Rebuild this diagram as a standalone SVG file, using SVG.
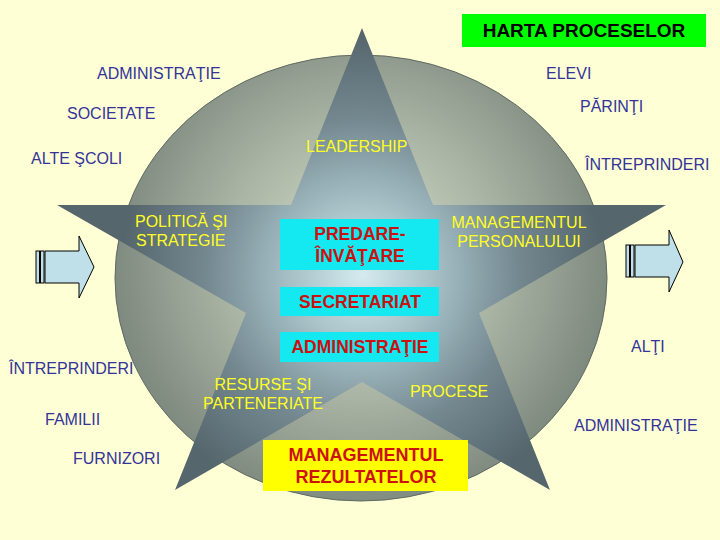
<svg xmlns="http://www.w3.org/2000/svg" width="720" height="540" viewBox="0 0 720 540">
<defs>
<radialGradient id="gCircle" gradientUnits="userSpaceOnUse" cx="361" cy="260" r="250">
<stop offset="0" stop-color="#d6e0ce"/>
<stop offset="0.55" stop-color="#aab4a4"/>
<stop offset="1" stop-color="#7e897f"/>
</radialGradient>
<radialGradient id="gStar" gradientUnits="userSpaceOnUse" cx="362" cy="275" r="240">
<stop offset="0" stop-color="#d4eaee"/>
<stop offset="0.3" stop-color="#a6c0c6"/>
<stop offset="0.65" stop-color="#748890"/>
<stop offset="1" stop-color="#56666d"/>
</radialGradient>
<style>
.blue{font-family:"Liberation Sans",Arial,sans-serif;font-size:16px;fill:#333399}
.yel{font-family:"Liberation Sans",Arial,sans-serif;font-size:16px;fill:#ffff22}
.red{font-family:"Liberation Sans",Arial,sans-serif;font-size:17.5px;font-weight:bold;fill:#cc1111;text-anchor:middle}
.cyan{fill:#14e8f0}
.arrow{fill:#bfe0e8;stroke:#000;stroke-width:1}
</style>
</defs>
<rect width="720" height="540" fill="#ffffd6"/>
<g id="circle"><ellipse cx="361" cy="278" rx="246" ry="223" fill="url(#gCircle)" stroke="#5e6a62" stroke-width="1"/></g>
<g id="star"><polygon points="362,28 433,205 666,205 479,313 550,490 362,382 175,490 246,313 57,205 291,205" fill="url(#gStar)"/></g>
<g id="title"><rect x="462" y="14" width="244" height="33" fill="#00ff00"/>
<text x="584" y="37" text-anchor="middle" style="font-family:'Liberation Sans',Arial,sans-serif;font-size:19px;font-weight:bold;fill:#000">HARTA PROCESELOR</text></g>
<g id="predare"><rect class="cyan" x="280" y="219" width="159" height="51"/>
<text class="red" x="360" y="240">PREDARE-</text><text class="red" x="360" y="262">ÎNVĂŢARE</text></g>
<g id="secretariat"><rect class="cyan" x="280" y="287" width="159" height="29"/>
<text class="red" x="360" y="308">SECRETARIAT</text></g>
<g id="administratie-c"><rect class="cyan" x="280" y="332" width="159" height="30"/>
<text class="red" x="360" y="353">ADMINISTRAŢIE</text></g>
<g id="rezultate"><rect x="263" y="440" width="205" height="51" fill="#ffff00"/>
<text class="red" x="366" y="461" style="font-size:18px">MANAGEMENTUL</text><text class="red" x="366" y="483" style="font-size:18px">REZULTATELOR</text></g>
<g id="star-labels">
<text class="yel" x="306" y="152">LEADERSHIP</text>
<text class="yel" x="135" y="227">POLITICĂ ŞI</text>
<text class="yel" x="136" y="246">STRATEGIE</text>
<text class="yel" x="519" y="228" text-anchor="middle">MANAGEMENTUL</text>
<text class="yel" x="519" y="247" text-anchor="middle">PERSONALULUI</text>
<text class="yel" x="263" y="390" text-anchor="middle">RESURSE ŞI</text>
<text class="yel" x="263" y="409" text-anchor="middle">PARTENERIATE</text>
<text class="yel" x="410" y="397">PROCESE</text>
</g>
<g id="outer-labels">
<text class="blue" x="97" y="79">ADMINISTRAŢIE</text>
<text class="blue" x="546" y="79">ELEVI</text>
<text class="blue" x="67" y="119">SOCIETATE</text>
<text class="blue" x="580" y="112">PĂRINŢI</text>
<text class="blue" x="31" y="164">ALTE ŞCOLI</text>
<text class="blue" x="585" y="170">ÎNTREPRINDERI</text>
<text class="blue" x="631" y="352">ALŢI</text>
<text class="blue" x="9" y="374">ÎNTREPRINDERI</text>
<text class="blue" x="45" y="425">FAMILII</text>
<text class="blue" x="574" y="431">ADMINISTRAŢIE</text>
<text class="blue" x="73" y="464">FURNIZORI</text>
</g>
<g id="connectors">
<g id="arrow-left">
<rect class="arrow" x="36" y="251" width="3.5" height="32"/>
<rect class="arrow" x="40.5" y="251" width="3.5" height="32"/>
<polygon class="arrow" points="45,251 79,251 79,236 94,267 79,298 79,283 45,283"/>
</g>
<g id="arrow-right">
<rect class="arrow" x="626" y="245" width="3.5" height="32"/>
<rect class="arrow" x="630.5" y="245" width="3.5" height="32"/>
<polygon class="arrow" points="635,245 669,245 669,230 683,262 669,292 669,277 635,277"/>
</g>
</g>
</svg>
